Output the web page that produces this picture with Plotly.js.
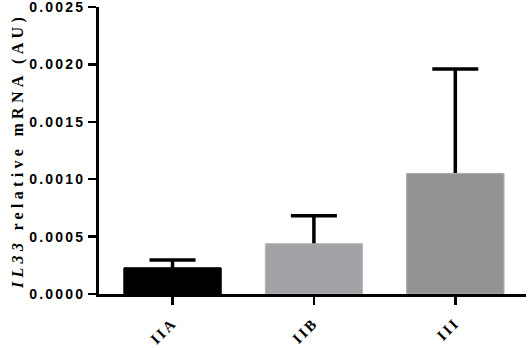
<!DOCTYPE html>
<html>
<head>
<meta charset="utf-8">
<script src="https://cdn.plot.ly/plotly-3.0.1.min.js"></script>
<style>
html,body{margin:0;padding:0;background:#fff;}
#chart{width:529px;height:348px;}
.ytick text{letter-spacing:2.2px;}
.xtick text{letter-spacing:2.5px;}
.g-ytitle text{letter-spacing:4.3px;}
</style>
</head>
<body>
<div id="chart"></div>
<script>
const categories = ["IIA", "IIB", "III"];
const means = [0.000227, 0.000437, 0.00105];
const errUp = [0.00007, 0.000245, 0.00091];
const barColors = ["#000000", "#a2a1a5", "#939393"];
const lineColors = ["#000000", "#b8b8ba", "#ababab"];
const yTickVals = [0, 0.0005, 0.0010, 0.0015, 0.0020, 0.0025];
const yTickText = ["0.0000", "0.0005", "0.0010", "0.0015", "0.0020", "0.0025"];

// hidden lower end of the error bar, tucked inside the bar
const tuck = 0.00003;
const errDownTucked = categories.map(() => tuck);

const barWithErr = {
  type: "bar",
  x: categories,
  y: means,
  width: 0.686,
  marker: {color: barColors, line: {color: lineColors, width: 1}},
  error_y: {
    type: "data", symmetric: false, array: errUp, arrayminus: errDownTucked,
    visible: true, color: "#000", thickness: 3.5, width: 23
  },
  hoverinfo: "none"
};
const barCover = {
  type: "bar",
  x: categories,
  y: means,
  width: 0.686,
  marker: {color: barColors, line: {color: lineColors, width: 1}},
  hoverinfo: "none"
};

const layout = {
  width: 529, height: 348,
  margin: {l: 99, r: 3, t: 7, b: 54},
  paper_bgcolor: "#fff", plot_bgcolor: "#fff",
  showlegend: false,
  barmode: "overlay",
  xaxis: {
    type: "category",
    range: [-0.52, 2.5],
    showline: true, linecolor: "#000", linewidth: 3,
    ticks: "outside", ticklen: 8, tickwidth: 2.5, tickcolor: "#000",
    tickangle: -45,
    ticklabelstandoff: 3,
    ticklabeloverflow: "allow",
    tickfont: {family: "Liberation Serif, Times New Roman, serif", size: 15, color: "#000", weight: "bold"},
    showgrid: false, zeroline: false, fixedrange: true
  },
  yaxis: {
    range: [0, 0.0025000001],
    tickvals: yTickVals, ticktext: yTickText,
    showline: true, linecolor: "#000", linewidth: 3,
    ticks: "outside", ticklen: 8, tickwidth: 2.5, tickcolor: "#000",
    ticklabeloverflow: "allow",
    tickfont: {family: "Liberation Sans, Arial, sans-serif", size: 14, color: "#000", weight: "bold"},
    showgrid: false, zeroline: false, fixedrange: true,
    title: {
      text: "<i>IL33</i> relative mRNA (AU)",
      font: {family: "Liberation Serif, Times New Roman, serif", size: 16, color: "#000", weight: "bold"},
      standoff: 2
    }
  }
};

Plotly.newPlot("chart", [barWithErr, barCover], layout, {displayModeBar: false, staticPlot: true});
</script>
</body>
</html>
